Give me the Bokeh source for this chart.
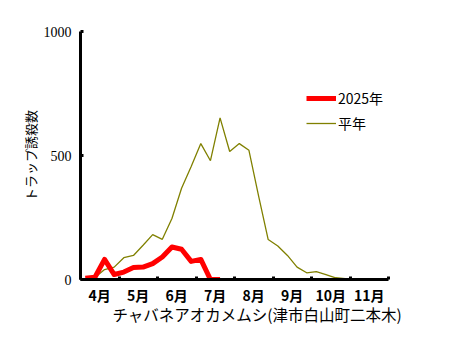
from bokeh.plotting import figure
from bokeh.models import Range1d, FixedTicker, Legend, LegendItem, Title, ColumnDataSource
from bokeh.embed import file_html
from bokeh.resources import INLINE

months = ["4月", "5月", "6月", "7月", "8月", "9月", "10月", "11月"]
y_ticks = [0, 500, 1000]

# 2025 (quarter-month counts)
y2025 = [5, 9, 81, 20, 30, 48, 50, 64, 91, 131, 122, 73, 81, 0, 0]
# normal year (quarter-month counts)
y_avg = [2, 8, 40, 50, 88, 97, 138, 181, 162, 246, 368, 456, 548, 479, 652, 516,
         548, 521, 337, 161, 135, 97, 50, 27, 32, 20, 7, 3, 2, 1, 1, 0]

x2025 = [(i + 0.5) / 4 for i in range(len(y2025))]
x_avg = [(i + 0.5) / 4 for i in range(len(y_avg))]

p = figure(width=440, height=341, output_backend="svg", toolbar_location=None,
           x_range=Range1d(0, len(months)), y_range=Range1d(0, 1000),
           min_border_left=80, min_border_right=52, min_border_top=31, min_border_bottom=62)
p.outline_line_color = None
p.xgrid.visible = False
p.ygrid.visible = False
p.background_fill_color = "white"

src_avg = ColumnDataSource(dict(x=x_avg, y=y_avg))
src_25 = ColumnDataSource(dict(x=x2025, y=y2025))
r_avg = p.line("x", "y", source=src_avg, line_color="#808000", line_width=1.3)
r_25 = p.line("x", "y", source=src_25, line_color="#FF0000", line_width=5, line_join="round")

# x axis: labels centred in months, small ticks at month boundaries
centers = [i + 0.5 for i in range(len(months))]
p.xaxis.ticker = FixedTicker(ticks=centers, minor_ticks=list(range(len(months) + 1)))
p.xaxis.major_label_overrides = {c: m for c, m in zip(centers, months)}
p.xaxis.major_tick_in = 0
p.xaxis.major_tick_out = 0
p.xaxis.minor_tick_in = 3
p.xaxis.minor_tick_out = 0
p.xaxis.minor_tick_line_width = 3
p.xaxis.axis_line_width = 3
p.xaxis.major_label_text_font = "Noto Sans CJK JP"
p.xaxis.major_label_text_font_style = "bold"
p.xaxis.major_label_text_font_size = "14px"
p.xaxis.major_label_text_color = "black"
p.xaxis.major_label_standoff = 5

p.yaxis.ticker = FixedTicker(ticks=y_ticks)
p.yaxis.major_tick_in = 3
p.yaxis.major_tick_out = 0
p.yaxis.major_tick_line_width = 3
p.yaxis.minor_tick_line_color = None
p.yaxis.axis_line_width = 3
p.yaxis.major_label_text_font = "Liberation Serif"
p.yaxis.major_label_text_font_size = "14px"
p.yaxis.major_label_text_color = "black"
p.yaxis.major_label_standoff = 9
p.yaxis.axis_label = "トラップ誘殺数"
p.yaxis.axis_label_text_font = "Noto Sans CJK JP"
p.yaxis.axis_label_text_font_style = "normal"
p.yaxis.axis_label_text_font_size = "13px"
p.yaxis.axis_label_text_color = "black"
p.yaxis.axis_label_standoff = 1

t = Title(text="チャバネアオカメムシ(津市白山町二本木)", align="left", offset=32,
          text_font="Noto Sans CJK JP", text_font_size="15.5px", text_font_style="normal",
          text_color="black", standoff=-13)
p.add_layout(t, "below")

legend = Legend(items=[LegendItem(label="2025年", renderers=[r_25]),
                       LegendItem(label="平年", renderers=[r_avg])],
                location=(226, 146), glyph_width=30, label_standoff=2, spacing=5,
                label_text_font="Noto Sans CJK JP", label_text_font_size="14px",
                label_text_color="black",
                border_line_color=None, background_fill_alpha=0)
p.add_layout(legend)

open("out.html", "w").write(file_html(p, INLINE))
